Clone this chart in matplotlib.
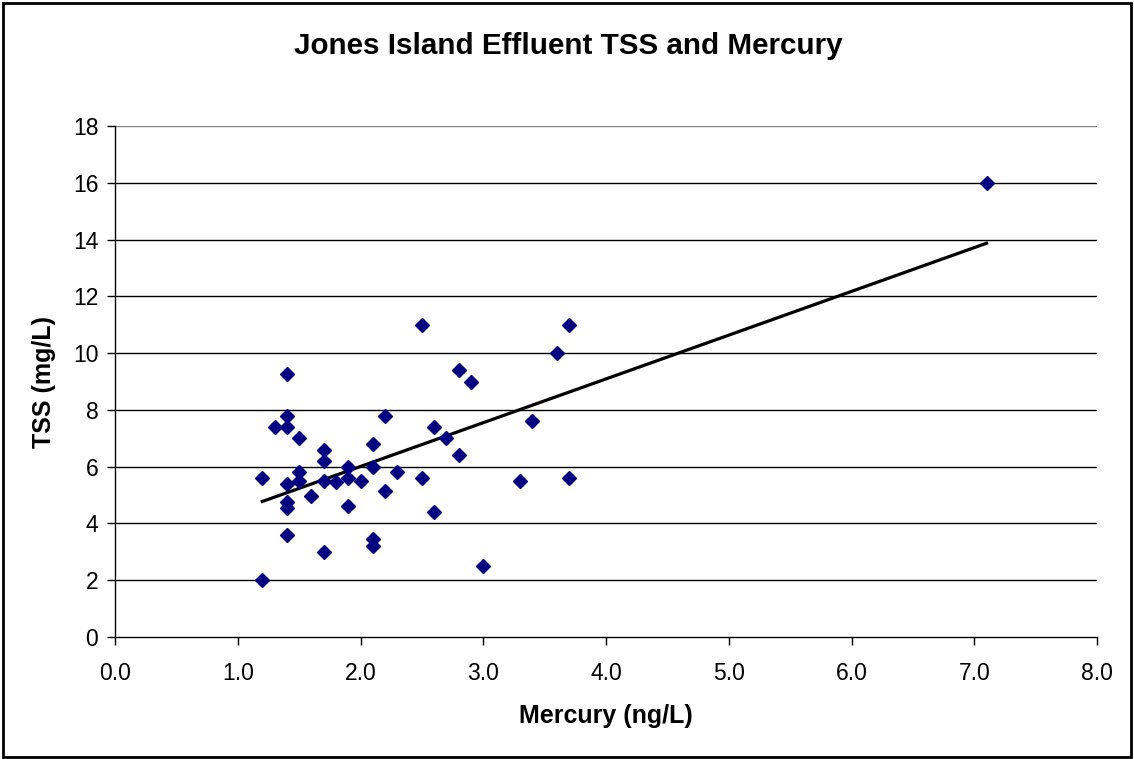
import numpy as np
import matplotlib.pyplot as plt
from matplotlib.patches import Rectangle

plt.rcParams['font.family'] = ['Liberation Sans', 'DejaVu Sans']

# Effluent samples
mercury = [1.2, 1.2, 1.3, 1.4, 1.4, 1.4, 1.4, 1.4, 1.4, 1.4,
           1.5, 1.5, 1.5, 1.6, 1.7, 1.7, 1.7, 1.7, 1.8, 1.9,
           1.9, 1.9, 2.0, 2.1, 2.1, 2.1, 2.1, 2.2, 2.2, 2.3,
           2.5, 2.5, 2.6, 2.6, 2.7, 2.8, 2.8, 2.9, 3.0, 3.3,
           3.4, 3.6, 3.7, 3.7, 7.1]
tss = [2.0, 5.6, 7.4, 9.25, 7.8, 7.4, 5.4, 4.75, 4.55, 3.6,
       7.0, 5.8, 5.5, 4.95, 6.6, 6.2, 5.5, 3.0, 5.45, 6.0,
       5.6, 4.6, 5.5, 6.8, 6.0, 3.45, 3.2, 7.8, 5.15, 5.8,
       11.0, 5.6, 7.4, 4.4, 7.0, 9.4, 6.4, 9.0, 2.5, 5.5,
       7.6, 10.0, 11.0, 5.6, 16.0]

x_ticks = [0, 1, 2, 3, 4, 5, 6, 7, 8]
y_ticks = [0, 2, 4, 6, 8, 10, 12, 14, 16, 18]

fig = plt.figure(figsize=(11.34, 7.59), dpi=100)
ax = fig.add_axes([115 / 1134, 1 - 637 / 759, (1097 - 115) / 1134, (637 - 126) / 759])

# horizontal gridlines
for y in y_ticks[1:]:
    ax.axhline(y, color='#808080' if y == 18 else 'black', lw=1, zorder=1)

ax.plot(mercury, tss, linestyle='none', marker='D', markersize=7.5,
        color='#000080', zorder=3, clip_on=False)

# linear trend line over the data range
slope, intercept = np.polyfit(mercury, tss, 1)
xs = np.array([min(mercury), max(mercury)])
ax.plot(xs, slope * xs + intercept, color='black', lw=2.3, zorder=2)

ax.set_xlim(0, 8)
ax.set_ylim(0, 18)
ax.set_xticks(x_ticks)
ax.set_xticklabels([f'{v:.1f}' for v in x_ticks])
ax.set_yticks(y_ticks)
ax.tick_params(axis='both', direction='out', length=6, width=1,
               labelsize=16.5, color='black')
ax.tick_params(axis='x', pad=12)
ax.tick_params(axis='y', pad=6)
for side in ['top', 'right']:
    ax.spines[side].set_visible(False)
for side in ['left', 'bottom']:
    ax.spines[side].set_linewidth(1)

ax.set_xlabel('Mercury (ng/L)', fontsize=18, fontweight='bold', labelpad=14)
ax.set_ylabel('TSS (mg/L)', fontsize=18, fontweight='bold', labelpad=12)
fig.text(568 / 1134, 1 - 46 / 759, 'Jones Island Effluent TSS and Mercury',
         fontsize=21.3, fontweight='bold', ha='center', va='center')

# chart border
fig.patches.append(Rectangle((3 / 1134, 2 / 759), 1128 / 1134, 754 / 759,
                             transform=fig.transFigure, fill=False,
                             edgecolor='black', lw=2))

fig.savefig('out.png', dpi=100)
